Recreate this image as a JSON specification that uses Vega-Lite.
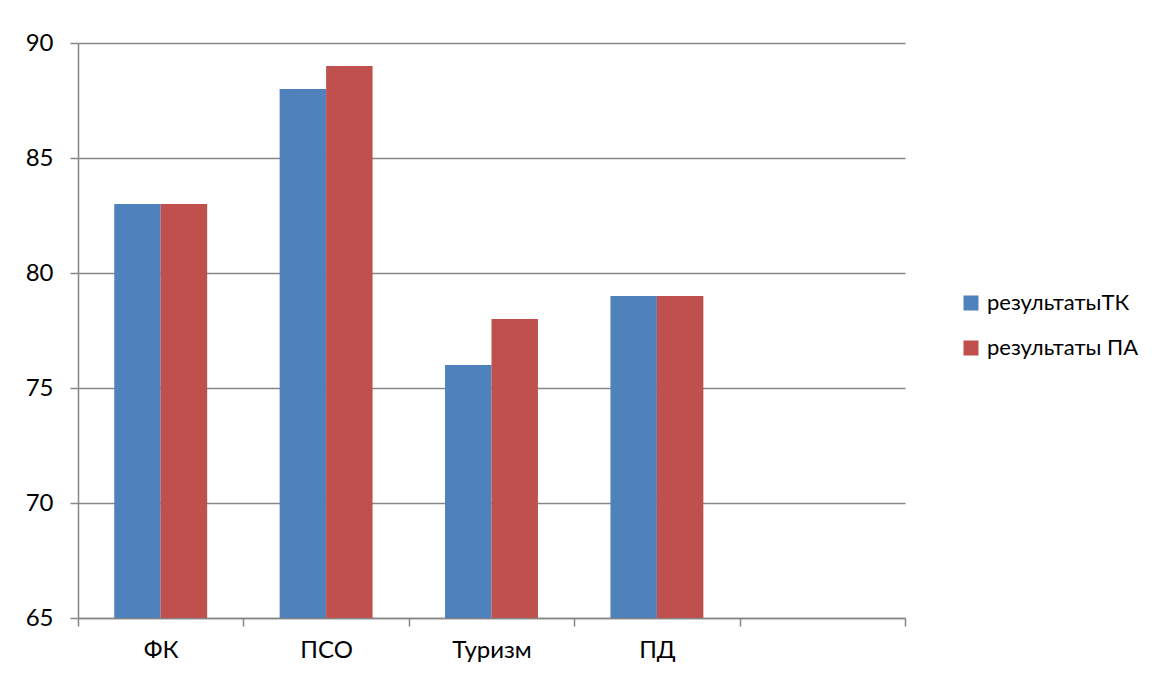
{
  "$schema": "https://vega.github.io/schema/vega-lite/v6.json",
  "description": "Grouped bars: результатыТК vs результаты ПА by category.",
  "autosize": {"type": "none"},
  "padding": {"left": 78, "top": 43, "right": 249, "bottom": 60},
  "width": 827,
  "height": 575,
  "background": "white",
  "data": {
    "values": [
      {"category": "ФК", "series": "результатыТК", "value": 83},
      {"category": "ФК", "series": "результаты ПА", "value": 83},
      {"category": "ПСО", "series": "результатыТК", "value": 88},
      {"category": "ПСО", "series": "результаты ПА", "value": 89},
      {"category": "Туризм", "series": "результатыТК", "value": 76},
      {"category": "Туризм", "series": "результаты ПА", "value": 78},
      {"category": "ПД", "series": "результатыТК", "value": 79},
      {"category": "ПД", "series": "результаты ПА", "value": 79}
    ]
  },
  "mark": {"type": "bar", "clip": true},
  "encoding": {
    "x": {
      "field": "category",
      "type": "nominal",
      "sort": null,
      "scale": {"domain": ["ФК", "ПСО", "Туризм", "ПД", ""], "paddingInner": 0, "paddingOuter": 0},
      "axis": {
        "title": null,
        "labelAngle": 0,
        "tickBand": "extent",
        "tickSize": 8,
        "labelPadding": 12,
        "domainColor": "#868686",
        "tickColor": "#868686",
        "domainWidth": 1.5,
        "tickWidth": 1.5
      }
    },
    "xOffset": {
      "field": "series",
      "sort": ["результатыТК", "результаты ПА"],
      "scale": {"paddingInner": 0, "paddingOuter": 0.78}
    },
    "y": {
      "field": "value",
      "type": "quantitative",
      "scale": {"domain": [65, 90], "zero": false, "nice": false},
      "axis": {
        "title": null,
        "values": [65, 70, 75, 80, 85, 90],
        "tickSize": 8,
        "labelPadding": 17,
        "gridColor": "#868686",
        "gridWidth": 1.5,
        "domainColor": "#868686",
        "tickColor": "#868686",
        "domainWidth": 1.5,
        "tickWidth": 1.5
      }
    },
    "color": {
      "field": "series",
      "type": "nominal",
      "sort": ["результатыТК", "результаты ПА"],
      "scale": {"domain": ["результатыТК", "результаты ПА"], "range": ["#4F81BD", "#C0504D"]},
      "legend": {
        "title": null,
        "orient": "none",
        "legendX": 882,
        "legendY": 249,
        "padding": 0,
        "symbolType": "square",
        "symbolSize": 225,
        "symbolStrokeWidth": 0,
        "labelOffset": 5,
        "rowPadding": 23
      }
    }
  },
  "config": {
    "view": {"stroke": null},
    "font": "Lato",
    "axis": {"labelFont": "Lato", "labelFontSize": 24, "labelColor": "#000000"},
    "legend": {"labelFont": "Lato", "labelFontSize": 22, "labelColor": "#000000", "labelLimit": 300}
  }
}
